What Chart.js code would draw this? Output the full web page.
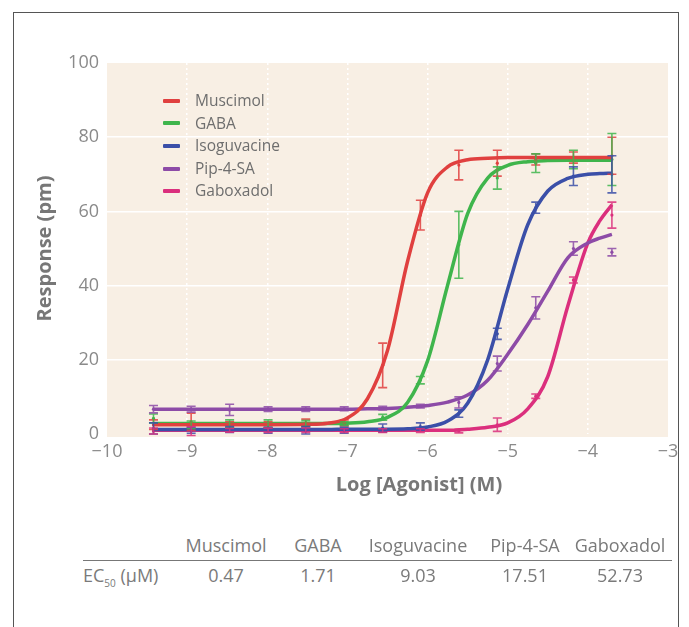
<!DOCTYPE html>
<html>
<head>
<meta charset="utf-8">
<script src="https://cdn.jsdelivr.net/npm/chart.js@4.4.0/dist/chart.umd.min.js"></script>
<style>
  body { margin: 0; background: #fff; font-family: "Open Sans", sans-serif; color: #7a7a7a; }
  #wrap { position: relative; width: 689px; height: 627px; overflow: hidden; }
  #frame { position: absolute; left: 13px; top: 12px; width: 666px; height: 640px; border: 1px solid #555; border-bottom: none; box-sizing: border-box; }
  canvas { position: absolute; left: 0; top: 0; }
  #legend { position: absolute; left: 163px; top: 89px; font-size: 15.5px; color: #6e6e6e; }
  #legend div { height: 22.6px; line-height: 22px; white-space: nowrap; }
  #legend span.sw { display: inline-block; width: 17px; height: 4px; margin-right: 15px; vertical-align: middle; position: relative; top: -1px; border-radius: 1px; }
  #xtitle { position: absolute; left: 419px; top: 470px; transform: translateX(-50%); font-size: 20px; font-weight: bold; color: #777; white-space: nowrap; }
  .cell { position: absolute; font-size: 18px; transform: translateX(-50%); white-space: nowrap; color: #7a7a7a; }
  #rule { position: absolute; left: 83px; top: 560px; width: 589px; height: 1px; background: #777; }
</style>
</head>
<body>
<div id="wrap">
  <div id="frame"></div>
  <canvas id="myChart" width="689" height="510"></canvas>
  <div id="legend"></div>
  <div id="xtitle">Log [Agonist] (M)</div>
  <div id="table"></div>
  <div id="rule"></div>
</div>
<script>
const compounds = ['Muscimol', 'GABA', 'Isoguvacine', 'Pip-4-SA', 'Gaboxadol'];
const colors = ['#e0403f', '#3fb54c', '#3b4fa8', '#8d4ba7', '#db2f7d'];
const ec50 = ['0.47', '1.71', '9.03', '17.51', '52.73'];

const xTickLabels = ['\u221210', '\u22129', '\u22128', '\u22127', '\u22126', '\u22125', '\u22124', '\u22123'];
const yTickLabels = ['0', '20', '40', '60', '80', '100'];

// log concentrations of the measured points
const conc = [-9.42, -8.95, -8.47, -7.99, -7.52, -7.04, -6.56, -6.09, -5.61, -5.13, -4.65, -4.18, -3.70];

const muscimolMean = [2.5, 3.3, 2.5, 2.5, 3.0, 3.0, 18.5, 59.0, 72.5, 73.0, 74.0, 74.5, 75.0];
const muscimolErr  = [1.3, 2.3, 0.8, 0.8, 1.0, 0.8, 6.0, 4.0, 4.0, 3.5, 1.5, 1.5, 5.0];
const gabaMean     = [4.2, 2.5, 2.8, 2.8, 2.8, 2.8, 4.5, 14.5, 51.0, 69.0, 73.0, 74.0, 74.0];
const gabaErr      = [1.2, 1.0, 1.0, 1.0, 0.8, 0.5, 0.8, 1.0, 9.0, 3.0, 2.5, 2.5, 7.0];
const isoMean      = [1.5, 1.0, 1.2, 1.0, 1.0, 1.0, 1.6, 2.0, 5.5, 27.0, 61.0, 69.5, 70.0];
const isoErr       = [1.5, 0.8, 0.8, 0.8, 1.0, 0.8, 1.1, 1.0, 1.0, 1.5, 1.5, 2.5, 5.0];
const pipMean      = [6.7, 6.7, 6.5, 6.7, 6.7, 6.8, 7.0, 7.5, 8.5, 19.0, 34.0, 50.0, 49.0];
const pipErr       = [1.0, 0.8, 1.5, 0.6, 0.6, 0.5, 0.5, 0.5, 1.5, 2.0, 3.0, 1.8, 1.0];
const gaboMean     = [0.8, 0.8, 1.0, 1.0, 1.0, 0.9, 0.9, 0.9, 0.8, 2.5, 10.2, 41.5, 59.0];
const gaboErr      = [0.8, 1.2, 0.5, 0.6, 0.6, 0.5, 0.5, 0.5, 0.5, 1.8, 0.6, 0.8, 3.5];

// fitted curves
const fitX = [-9.42, -9.0, -8.5, -8.0, -7.5, -7.25, -7.0, -6.75, -6.5, -6.25, -6.0, -5.75, -5.5, -5.25, -5.0, -4.75, -4.5, -4.25, -4.0, -3.85, -3.7];
const muscimolFit = [2.5, 2.5, 2.5, 2.5, 2.6, 2.9, 4.3, 9.5, 22.5, 46.5, 65.0, 72.0, 73.9, 74.3, 74.5, 74.5, 74.5, 74.5, 74.5, 74.5, 74.5];
const gabaFit     = [2.8, 2.8, 2.8, 2.8, 2.8, 2.8, 2.9, 3.3, 4.5, 8.5, 19.7, 40.1, 59.4, 69.0, 72.4, 73.4, 73.7, 73.8, 73.8, 73.8, 73.8];
const isoFit      = [1.2, 1.2, 1.2, 1.2, 1.2, 1.2, 1.3, 1.3, 1.3, 1.4, 1.9, 3.5, 8.3, 20.0, 39.1, 56.4, 65.5, 68.9, 70.0, 70.2, 70.3];
const pipFit      = [6.7, 6.7, 6.7, 6.7, 6.7, 6.7, 6.7, 6.8, 6.9, 7.2, 7.7, 8.6, 10.5, 14.5, 21.5, 29.5, 38.5, 47.5, 51.5, 52.8, 53.8];
const gaboFit     = [1.0, 1.0, 1.0, 1.0, 1.0, 1.0, 1.0, 1.0, 1.0, 1.0, 1.0, 1.0, 1.3, 1.8, 3.0, 6.8, 15.5, 34.5, 51.5, 57.5, 61.8];

const means = [muscimolMean, gabaMean, isoMean, pipMean, gaboMean];
const errs = [muscimolErr, gabaErr, isoErr, pipErr, gaboErr];
const fits = [muscimolFit, gabaFit, isoFit, pipFit, gaboFit];

const pts = (xs, ys) => xs.map((x, i) => ({ x: x, y: ys[i] }));

const datasets = [];
compounds.forEach((name, i) => {
  datasets.push({
    label: name,
    data: pts(fitX, fits[i]),
    showLine: true,
    borderColor: colors[i],
    borderWidth: 3.5,
    pointRadius: 0,
    cubicInterpolationMode: 'monotone',
    order: i
  });
});
compounds.forEach((name, i) => {
  datasets.push({
    label: name + ' data',
    data: pts(conc, means[i]),
    errors: errs[i],
    showLine: false,
    pointRadius: 1.6,
    backgroundColor: colors[i],
    borderColor: colors[i],
    borderWidth: 0,
    order: i
  });
});

const plotBg = {
  id: 'plotBg',
  beforeDraw(chart) {
    const { ctx, chartArea: a } = chart;
    ctx.save();
    ctx.fillStyle = '#f8efe4';
    ctx.fillRect(a.left, a.top, a.right - a.left, a.bottom - a.top + 3);
    ctx.restore();
  }
};

const errorBars = {
  id: 'errorBars',
  afterDatasetsDraw(chart) {
    const { ctx, scales: { x, y } } = chart;
    ctx.save();
    chart.data.datasets.forEach(ds => {
      if (!ds.errors) return;
      ctx.strokeStyle = ds.borderColor;
      ctx.globalAlpha = 0.85;
      ctx.lineWidth = 1.6;
      ds.data.forEach((p, k) => {
        const e = ds.errors[k];
        const px = x.getPixelForValue(p.x);
        const y1 = y.getPixelForValue(p.y + e);
        const y2 = y.getPixelForValue(p.y - e);
        ctx.beginPath();
        ctx.moveTo(px, y1); ctx.lineTo(px, y2);
        ctx.moveTo(px - 4.5, y1); ctx.lineTo(px + 4.5, y1);
        ctx.moveTo(px - 4.5, y2); ctx.lineTo(px + 4.5, y2);
        ctx.stroke();
      });
    });
    ctx.restore();
  }
};

const ctx = document.getElementById('myChart').getContext('2d');
const chart = new Chart(ctx, {
  type: 'scatter',
  data: { datasets: datasets },
  options: {
    responsive: false,
    animation: false,
    layout: { padding: { left: 0, top: 63, right: 21, bottom: 0 } },
    plugins: { legend: { display: false }, tooltip: { enabled: false } },
    scales: {
      x: {
        type: 'linear', min: -10, max: -3,
        afterFit: s => { s.height = 76; },
        border: { display: false, dash: [2, 3] },
        grid: {
          drawTicks: false,
          lineWidth: 1.5,
          color: c => (c.tick && c.tick.value > -10 && c.tick.value < -3) ? '#ffffff' : 'rgba(0,0,0,0)'
        },
        ticks: {
          stepSize: 1, padding: 7, color: '#8a8a8a',
          font: { family: 'Open Sans', size: 18 },
          callback: v => xTickLabels[Math.round(v + 10)]
        }
      },
      y: {
        min: 0, max: 100,
        afterFit: s => { s.width = 107; },
        border: { display: false },
        grid: {
          drawTicks: false,
          lineWidth: 1.5,
          color: c => (c.tick && c.tick.value > 0 && c.tick.value < 100) ? '#ffffff' : 'rgba(0,0,0,0)'
        },
        ticks: {
          stepSize: 20, padding: 8, color: '#8a8a8a',
          font: { family: 'Open Sans', size: 18 },
          callback: v => yTickLabels[Math.round(v / 20)]
        },
        title: {
          display: true, text: 'Response (pm)', color: '#777',
          font: { family: 'Open Sans', size: 20, weight: 'bold' },
          padding: { top: 33, bottom: 0 }
        }
      }
    }
  },
  plugins: [plotBg, errorBars]
});

// legend inside plot
const legend = document.getElementById('legend');
compounds.forEach((name, i) => {
  const row = document.createElement('div');
  row.innerHTML = '<span class="sw" style="background:' + colors[i] + '"></span>' + name;
  legend.appendChild(row);
});

// EC50 table
const colX = [226, 318, 418, 525, 620];
const table = document.getElementById('table');
function cell(text, x, y) {
  const d = document.createElement('div');
  d.className = 'cell';
  d.textContent = text;
  d.style.left = x + 'px';
  d.style.top = y + 'px';
  table.appendChild(d);
}
compounds.forEach((name, i) => cell(name, colX[i], 533));
ec50.forEach((v, i) => cell(v, colX[i], 563));
const lab = document.createElement('div');
lab.className = 'cell';
lab.style.transform = 'none';
lab.style.left = '83px';
lab.style.top = '563px';
lab.innerHTML = 'EC<sub style="font-size:10px">50</sub> (\u03bcM)';
table.appendChild(lab);
</script>
</body>
</html>
